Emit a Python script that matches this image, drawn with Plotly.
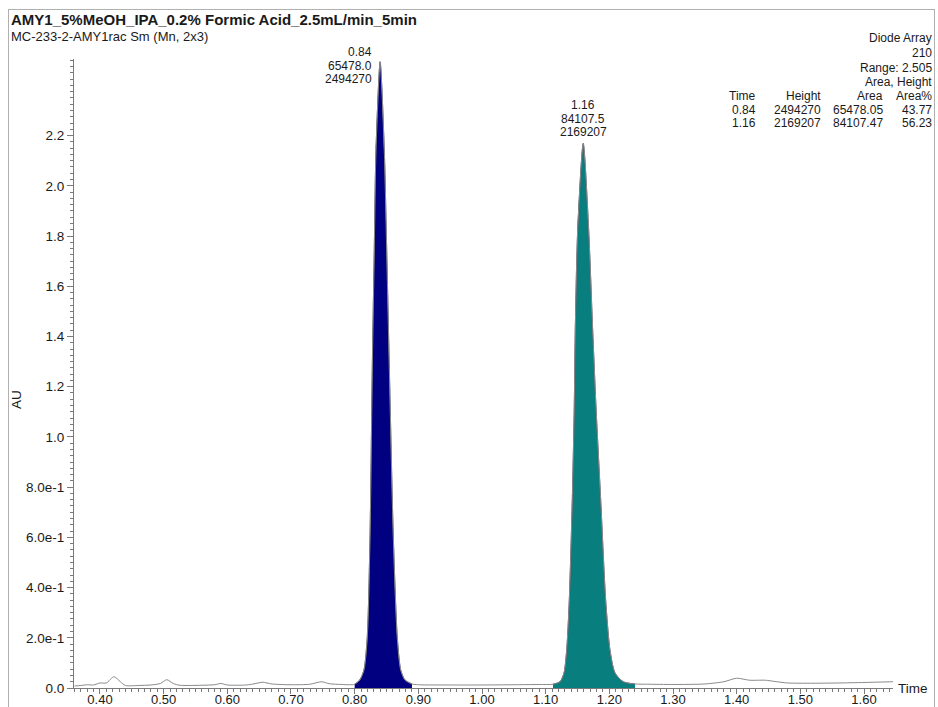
"""Chiral SFC chromatogram (diode array, 210 nm) for AMY1 racemate."""

import numpy as np
import plotly.graph_objects as go

W, H = 938, 707
L, R, T, B = 74, 45, 59, 19
PW, PH = W - L - R, H - T - B

FONT = "Liberation Sans, Arial, Helvetica, sans-serif"
INK = "#1a1a1a"
AXIS = "#7a7a7a"

# chromatogram (time in min, AU)
time = [
    0.360, 0.370, 0.380, 0.390, 0.400, 0.410, 0.422, 0.432, 0.440, 0.460,
    0.480, 0.495, 0.505, 0.515, 0.525, 0.560, 0.580, 0.590, 0.600, 0.630,
    0.645, 0.655, 0.670, 0.700, 0.730, 0.748, 0.760, 0.780, 0.792, 0.800,
    0.808, 0.8146, 0.8198, 0.8241, 0.8277, 0.8308, 0.8335, 0.840, 0.8465, 0.8503,
    0.8544, 0.8607, 0.8669, 0.8723, 0.879, 0.890, 0.900, 0.950, 1.000, 1.050,
    1.090, 1.1115, 1.1225, 1.1288, 1.1330, 1.1371, 1.1418, 1.1449, 1.1465, 1.1503,
    1.159, 1.1675, 1.1738, 1.1790, 1.1864, 1.1942, 1.2010, 1.2089, 1.2219, 1.2403,
    1.260, 1.300, 1.350, 1.380, 1.400, 1.420, 1.445, 1.460, 1.480, 1.520,
    1.560, 1.600, 1.646,
]
au = [
    0.008, 0.010, 0.013, 0.012, 0.020, 0.020, 0.045, 0.025, 0.010, 0.010,
    0.012, 0.018, 0.033, 0.018, 0.011, 0.011, 0.013, 0.018, 0.012, 0.012,
    0.018, 0.023, 0.016, 0.013, 0.015, 0.025, 0.017, 0.014, 0.013, 0.015,
    0.032, 0.072, 0.203, 0.602, 1.279, 1.746, 2.144, 2.494, 2.144, 1.746,
    1.279, 0.602, 0.203, 0.072, 0.032, 0.016, 0.013, 0.012, 0.012, 0.013,
    0.014, 0.015, 0.025, 0.060, 0.151, 0.351, 0.749, 1.121, 1.427, 1.825,
    2.169, 1.825, 1.427, 1.121, 0.749, 0.351, 0.151, 0.060, 0.025, 0.016,
    0.015, 0.014, 0.016, 0.025, 0.039, 0.031, 0.031, 0.026, 0.020, 0.019,
    0.020, 0.022, 0.025,
]

# integrated peaks
peak_rt = [0.84, 1.16]
peak_start = [0.800, 1.1115]
peak_end = [0.890, 1.2403]
peak_height = [2494270, 2169207]
peak_area = [65478.05, 84107.47]
peak_label_area = ["65478.0", "84107.5"]
peak_area_pct = [43.77, 56.23]
peak_colors = ["#000080", "#087e7e"]

y_ticks = [0.0, 0.2, 0.4, 0.6, 0.8, 1.0, 1.2, 1.4, 1.6, 1.8, 2.0, 2.2]
y_ticktext = ["0.0", "2.0e-1", "4.0e-1", "6.0e-1", "8.0e-1",
              "1.0", "1.2", "1.4", "1.6", "1.8", "2.0", "2.2"]
x_ticks = [0.40, 0.50, 0.60, 0.70, 0.80, 0.90, 1.00, 1.10, 1.20, 1.30, 1.40, 1.50, 1.60]


def px(x):
    return (x - L) / PW


def py(y):
    return (H - B - y) / PH


t = np.array(time)
a = np.array(au)

fig = go.Figure()

for i in range(len(peak_rt)):
    m = (t >= peak_start[i]) & (t <= peak_end[i])
    fig.add_trace(
        go.Scatter(
            x=t[m], y=a[m], mode="lines", fill="tozeroy",
            fillcolor=peak_colors[i],
            line=dict(color="#333355", width=0.8, shape="spline", smoothing=0.7),
            hoverinfo="skip", showlegend=False,
        )
    )

fig.add_trace(
    go.Scatter(
        x=t, y=a, mode="lines",
        line=dict(color="#8a8a8a", width=1, shape="spline", smoothing=0.7),
        hoverinfo="skip", showlegend=False,
    )
)

ann = []


def text(x, y, s, size=12, anchor="right", bold=False):
    ann.append(dict(
        x=px(x), y=py(y), xref="paper", yref="paper", text=f"<b>{s}</b>" if bold else s,
        showarrow=False, xanchor=anchor, yanchor="middle", borderpad=0,
        font=dict(family=FONT, size=size, color=INK),
    ))


text(10, 20, "AMY1_5%MeOH_IPA_0.2% Formic Acid_2.5mL/min_5min", size=15, anchor="left", bold=True)
text(10, 36, "MC-233-2-AMY1rac Sm (Mn, 2x3)", size=13, anchor="left")

# instrument block, top right
text(933, 38, "Diode Array")
text(933, 53, "210")
text(933, 68, "Range: 2.505")
text(933, 82, "Area, Height")
cols = [757, 822, 884, 933]
for c, s in zip(cols, ["Time", "Height", "Area", "Area%"]):
    text(c, 96, s)
for r in range(len(peak_rt)):
    row = [f"{peak_rt[r]:.2f}", f"{peak_height[r]}", f"{peak_area[r]:.2f}", f"{peak_area_pct[r]:.2f}"]
    for c, s in zip(cols, row):
        text(c, 110 + 13 * r, s)

# peak labels
text(373, 52, f"{peak_rt[0]:.2f}")
text(373, 66, peak_label_area[0])
text(373, 79, f"{peak_height[0]}")
text(583, 105, f"{peak_rt[1]:.2f}", anchor="center")
text(583, 119, peak_label_area[1], anchor="center")
text(583, 132, f"{peak_height[1]}", anchor="center")

text(913, 689, "Time", size=13.5, anchor="center")
ann.append(dict(
    x=px(17), y=py(400), xref="paper", yref="paper", text="AU", textangle=-90,
    showarrow=False, xanchor="center", yanchor="middle",
    font=dict(family=FONT, size=13.5, color=INK),
))

fig.update_layout(
    width=W, height=H,
    margin=dict(l=L, r=R, t=T, b=B, autoexpand=False),
    paper_bgcolor="white", plot_bgcolor="white",
    annotations=ann,
)
fig.update_xaxes(
    range=[0.3592, 1.6455], showgrid=False, zeroline=False, automargin=False,
    showline=True, linecolor=AXIS, linewidth=1,
    tickmode="array", tickvals=x_ticks, ticktext=[f"{v:.2f}" for v in x_ticks],
    ticks="outside", ticklen=5, tickcolor=AXIS, ticklabelstandoff=-6,
    minor=dict(dtick=0.01, tick0=0, ticks="outside", ticklen=3, tickcolor=AXIS),
    tickfont=dict(family=FONT, size=13, color=INK),
)
fig.update_yaxes(
    range=[0, 2.505], showgrid=False, zeroline=False, automargin=False,
    showline=True, linecolor=AXIS, linewidth=1,
    tickmode="array", tickvals=y_ticks, ticktext=y_ticktext,
    ticks="outside", ticklen=6, tickcolor=AXIS,
    minor=dict(dtick=0.025, tick0=0, ticks="outside", ticklen=3, tickcolor=AXIS),
    tickfont=dict(family=FONT, size=13.5, color=INK),
)

# page frame drawn around the report, as in the instrument printout
frame_js = (
    "document.body.style.margin='0';document.body.style.overflow='hidden';"
    "var f=document.createElement('div');"
    "f.style.cssText='position:absolute;left:8px;top:9px;width:925px;height:720px;"
    "border:1.5px solid #b0b0b0;pointer-events:none;';"
    "document.body.appendChild(f);"
)
fig.write_html("out.html", config={"displayModeBar": False}, post_script=frame_js)
